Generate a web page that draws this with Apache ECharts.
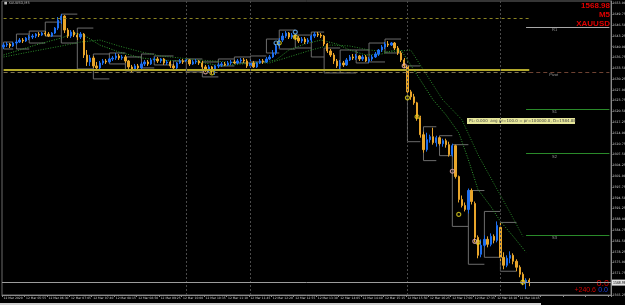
<!DOCTYPE html>
<html>
<head>
<meta charset="utf-8">
<script src="https://cdn.jsdelivr.net/npm/echarts@6/dist/echarts.min.js"></script>
<style>
html, body { margin: 0; padding: 0; background: #000; }
#main { width: 625px; height: 305px; }
</style>
</head>
<body>
<div id="main"></div>
<script>
var myChart = echarts.init(document.getElementById('main'), null, {renderer: 'canvas'});

// bar slots on the time axis, the last ones are the empty chart shift
var slots = [];
for (var i = 0; i < 190; i++) slots.push(String(i));

var tickLabels = ['12 Mar 2020', '12 Mar 05:55', '12 Mar 06:30', '12 Mar 07:05', '12 Mar 07:40', '12 Mar 08:15',
    '12 Mar 08:50', '12 Mar 09:25', '12 Mar 10:00', '12 Mar 10:35', '12 Mar 11:10', '12 Mar 11:45',
    '12 Mar 12:20', '12 Mar 12:55', '12 Mar 13:30', '12 Mar 14:05', '12 Mar 14:40', '12 Mar 15:15',
    '12 Mar 15:50', '12 Mar 16:25', '12 Mar 17:00', '12 Mar 17:35', '12 Mar 18:10', '12 Mar 18:45'];

// XAUUSD M5 bars: [open, close, low, high]
var bars = [
    [1639.9,1640.5,1639.3,1641.1],[1640.5,1640.8,1639.9,1641.4],[1640.8,1640.2,1639.6,1641.1],[1640.2,1641.1,1639.9,1641.4],
    [1641.1,1641.4,1640.5,1642.0],[1641.4,1642.0,1641.1,1642.6],[1642.0,1641.7,1641.1,1642.6],[1641.7,1642.6,1641.4,1642.9],
    [1642.6,1642.9,1642.0,1643.5],[1642.9,1643.2,1642.3,1643.8],[1643.2,1643.8,1642.6,1644.1],[1643.8,1643.5,1642.9,1644.4],
    [1643.5,1644.1,1643.2,1644.4],[1644.1,1643.8,1643.2,1644.7],[1643.8,1643.2,1642.9,1644.4],[1643.2,1644.1,1642.9,1644.4],
    [1644.1,1645.6,1643.8,1645.9],[1645.6,1648.0,1645.0,1648.9],[1648.0,1649.2,1646.8,1649.8],[1649.2,1645.0,1644.1,1649.5],
    [1645.0,1643.2,1642.6,1645.6],[1643.2,1644.4,1642.6,1645.0],[1644.4,1643.5,1642.9,1645.0],[1643.5,1642.9,1642.0,1644.1],
    [1642.9,1643.8,1642.3,1644.4],[1643.8,1637.5,1636.6,1644.1],[1637.5,1635.4,1634.2,1639.0],[1635.4,1636.6,1634.2,1637.5],
    [1636.6,1634.2,1633.6,1637.2],[1634.2,1633.6,1633.0,1635.4],[1633.6,1635.1,1633.0,1635.7],[1635.1,1635.7,1634.5,1636.3],
    [1635.7,1635.4,1634.8,1636.3],[1635.4,1636.3,1635.1,1636.6],[1636.3,1636.6,1635.7,1637.2],[1636.6,1637.2,1636.0,1638.1],
    [1637.2,1636.6,1636.0,1637.8],[1636.6,1636.9,1636.0,1637.5],[1636.9,1635.7,1635.1,1637.5],[1635.7,1633.9,1633.3,1636.0],
    [1633.9,1633.0,1632.4,1634.5],[1633.0,1634.2,1632.7,1634.8],[1634.2,1633.6,1633.0,1634.8],[1633.6,1634.8,1633.3,1635.4],
    [1634.8,1635.4,1634.2,1636.0],[1635.4,1634.8,1634.2,1636.0],[1634.8,1636.0,1634.5,1636.6],[1636.0,1636.3,1635.4,1636.9],
    [1636.3,1635.7,1635.1,1636.9],[1635.7,1636.3,1635.1,1636.6],[1636.3,1635.1,1634.5,1636.6],[1635.1,1635.4,1634.5,1636.0],
    [1635.4,1634.2,1633.6,1635.7],[1634.2,1633.6,1633.0,1634.8],[1633.6,1635.1,1632.7,1635.4],[1635.1,1635.7,1634.8,1636.3],
    [1635.7,1635.4,1634.8,1636.3],[1635.4,1636.0,1635.1,1636.6],[1636.0,1634.8,1634.2,1636.3],[1634.8,1635.4,1634.5,1636.0],
    [1635.4,1635.7,1634.8,1636.3],[1635.7,1635.1,1634.5,1636.0],[1635.1,1633.9,1633.3,1635.7],[1633.9,1633.0,1632.4,1634.5],
    [1633.0,1633.9,1632.1,1634.5],[1633.9,1632.7,1631.8,1634.2],[1632.7,1634.2,1631.5,1634.5],[1634.2,1634.5,1633.6,1635.1],
    [1634.5,1634.8,1633.9,1635.4],[1634.8,1634.5,1634.2,1635.4],[1634.5,1635.1,1634.2,1635.7],[1635.1,1635.4,1634.5,1636.0],
    [1635.4,1635.1,1634.8,1636.0],[1635.1,1635.7,1634.8,1636.3],[1635.7,1636.0,1635.1,1636.6],[1636.0,1635.7,1635.1,1636.6],
    [1635.7,1634.2,1633.6,1636.3],[1634.2,1635.1,1633.6,1636.0],[1635.1,1633.9,1633.6,1635.7],[1633.9,1635.1,1633.6,1635.4],
    [1635.1,1635.7,1634.8,1636.3],[1635.7,1635.4,1634.8,1636.3],[1635.4,1636.3,1635.1,1636.9],[1636.3,1636.9,1636.0,1637.5],
    [1636.9,1638.1,1636.6,1639.0],[1638.1,1640.2,1637.5,1640.8],[1640.2,1642.0,1639.6,1642.6],[1642.0,1643.2,1641.4,1644.1],
    [1643.2,1644.1,1642.6,1644.7],[1644.1,1642.9,1642.3,1644.4],[1642.9,1643.5,1642.3,1644.1],[1643.5,1642.6,1642.0,1643.8],
    [1642.6,1641.7,1641.1,1643.2],[1641.7,1642.3,1641.1,1642.9],[1642.3,1641.4,1640.8,1642.9],[1641.4,1642.0,1640.8,1642.6],
    [1642.0,1643.2,1641.4,1643.5],[1643.2,1643.8,1642.6,1644.4],[1643.8,1643.5,1642.9,1644.4],[1643.5,1643.2,1642.6,1644.1],
    [1643.2,1640.8,1640.2,1643.5],[1640.8,1638.7,1638.1,1641.1],[1638.7,1637.5,1636.9,1639.3],[1637.5,1635.7,1634.8,1638.1],
    [1635.7,1634.2,1633.6,1636.3],[1634.2,1635.1,1633.0,1636.0],[1635.1,1634.5,1633.9,1635.7],[1634.5,1636.0,1634.2,1636.6],
    [1636.0,1636.9,1635.7,1637.5],[1636.9,1636.6,1636.0,1637.8],[1636.6,1637.2,1636.0,1637.8],[1637.2,1636.3,1635.7,1637.5],
    [1636.3,1636.9,1635.7,1637.5],[1636.9,1635.7,1635.4,1637.5],[1635.7,1636.3,1635.1,1636.9],[1636.3,1636.9,1635.7,1637.5],
    [1636.9,1637.8,1636.6,1638.4],[1637.8,1639.0,1637.2,1639.3],[1639.0,1639.9,1638.4,1640.5],[1639.9,1640.8,1639.3,1641.4],
    [1640.8,1640.5,1639.9,1641.7],[1640.5,1641.1,1640.2,1641.4],[1641.1,1639.6,1639.0,1641.4],[1639.6,1638.1,1637.5,1640.2],
    [1638.1,1636.0,1635.4,1638.7],[1636.0,1634.2,1633.6,1636.6],[1634.2,1626.4,1625.8,1634.5],[1626.4,1624.9,1624.0,1627.0],
    [1624.9,1623.1,1622.5,1625.8],[1623.1,1618.6,1617.7,1623.4],[1618.6,1613.5,1612.6,1619.2],[1613.5,1609.0,1608.1,1614.4],
    [1609.0,1612.0,1608.4,1614.1],[1612.0,1612.9,1611.1,1613.5],[1612.9,1611.1,1610.5,1615.6],[1611.1,1612.6,1609.9,1613.2],
    [1612.6,1610.8,1610.2,1612.9],[1610.8,1611.7,1609.9,1612.3],[1611.7,1610.5,1609.6,1612.3],[1610.5,1607.5,1606.9,1611.4],
    [1607.5,1610.2,1606.9,1610.8],[1610.2,1600.9,1600.3,1610.5],[1600.9,1594.0,1593.1,1601.2],[1594.0,1592.2,1591.6,1595.2],
    [1592.2,1591.0,1590.4,1593.1],[1591.0,1596.7,1589.8,1597.3],[1596.7,1593.4,1592.5,1597.3],[1592.8,1582.6,1581.1,1593.4],
    [1582.6,1577.2,1576.3,1583.2],[1577.5,1580.2,1576.6,1582.0],[1580.2,1582.0,1579.6,1583.2],[1582.0,1580.5,1579.6,1582.9],
    [1580.5,1582.9,1579.9,1583.8],[1582.9,1581.7,1580.8,1583.5],[1581.7,1586.2,1581.1,1587.4],[1585.6,1576.6,1575.4,1587.1],
    [1576.6,1574.2,1573.0,1578.1],[1574.2,1576.3,1573.6,1577.2],[1576.3,1577.2,1574.8,1578.4],[1577.2,1575.4,1574.5,1577.8],
    [1575.4,1573.6,1572.4,1576.0],[1573.6,1571.5,1570.6,1574.2],[1571.5,1569.1,1568.2,1572.1],[1569.1,1569.7,1567.0,1570.3],
    [1569.7,1569.0,1567.9,1570.3]
];

// moving averages (dotted green), [bar, price]
var maFast = [[0,1637.5],[5,1639.0],[11,1640.8],[18,1642.6],[22,1644.1],[25,1643.5],[30,1640.5],[36,1638.4],
    [43,1636.6],[49,1636.0],[55,1635.7],[61,1635.4],[68,1634.2],[74,1634.8],[80,1635.1],[85,1636.0],[89,1639.0],
    [94,1640.8],[99,1642.0],[104,1640.8],[108,1639.0],[113,1637.5],[118,1637.8],[122,1639.0],[124,1639.0],
    [127,1634.5],[130,1630.0],[134,1624.0],[138,1619.5],[142,1614.1],[145,1606.0],[148,1597.0],[152,1591.9],
    [155,1587.4],[159,1582.9],[163,1578.1]];
var maSlow = [[0,1636.9],[8,1638.4],[18,1640.2],[24,1641.4],[30,1642.0],[36,1640.2],[43,1638.4],[49,1637.2],
    [61,1636.0],[74,1635.1],[83,1635.1],[89,1636.9],[96,1639.0],[102,1640.5],[108,1640.2],[114,1639.0],
    [121,1638.4],[127,1639.0],[137,1624.0],[143,1618.0],[148,1607.5],[154,1597.0],[158,1590.1],[162,1582.9]];

// period high/low brackets: [firstBar, lastBar, high, low]
var ranges = [
    [0,3,1641.4,1639.3],[4,8,1643.8,1639.3],[8,13,1644.7,1641.1],[13,18,1647.4,1643.2],[18,23,1649.8,1641.1],
    [23,28,1645.6,1633.3],[28,33,1637.8,1630.3],[33,38,1638.1,1634.8],[38,43,1636.9,1632.7],[43,47,1637.8,1633.6],
    [47,53,1637.2,1634.5],[53,57,1635.7,1633.0],[57,62,1636.3,1632.4],[62,67,1635.4,1630.9],[67,72,1636.3,1634.2],
    [72,77,1636.9,1635.1],[77,82,1637.2,1635.4],[82,86,1642.3,1638.1],[86,91,1645.0,1639.3],[91,96,1643.5,1639.6],
    [96,100,1644.4,1636.9],[100,105,1639.6,1632.1],[105,110,1639.0,1632.1],[110,114,1639.0,1635.1],[114,119,1641.1,1635.4],
    [119,124,1642.3,1638.1],[126,130,1634.2,1611.4],[131,135,1615.9,1605.7],[136,140,1613.2,1607.2],[140,145,1610.5,1585.9],
    [145,150,1596.7,1574.5],[150,155,1590.4,1576.6],[155,160,1587.1,1572.4]
];

// signal rings, [bar, price]
var ringsYellow = [[65,1632.1],[86,1641.1],[91,1642.9],[126,1624.6],[129,1618.9],[142,1589.5],[148,1581.1],[162,1569.1]];
var ringsPink = [[63,1632.4],[125,1634.2],[140,1602.5],[147,1581.4]];
var ringsBlue = [[85,1641.1],[91,1644.4]];

var bid = 1568.98;
var prevHigh = 1648.6;
var dayLevel = 1633.0;
var pivot = 1632.4;
var levelNames = ['R1', 'S1', 'S2', 'S3'];
var levelValues = [1645.9, 1621.3, 1607.8, 1583.2];
var separators = [57, 77, 126, 155];

var lastBar = bars.length - 1;
var lastSlot = slots.length - 1;

var marks = [
    [{coord: [0, prevHigh], lineStyle: {color: '#8c8422', type: [3, 3], width: 1}}, {coord: [lastBar, prevHigh]}],
    [{coord: [0, dayLevel], lineStyle: {color: '#b2a82c', type: 'solid', width: 2}}, {coord: [lastBar, dayLevel]}],
    [{coord: [0, pivot], lineStyle: {color: '#7e7350', type: [4, 3], width: 1}}, {coord: [lastBar, pivot]}],
    [{coord: [lastBar, pivot], lineStyle: {color: '#6e4232', type: [4, 3], width: 1},
        label: {show: true, formatter: 'Pivot', position: 'insideStartBottom', distance: [20, 1], fontSize: 4, color: '#9a9a9a'}},
        {coord: [lastSlot, pivot]}]
];
for (var k = 0; k < levelNames.length; k++) {
    marks.push([
        {coord: [lastBar - 1, levelValues[k]],
            lineStyle: {color: k === 0 ? '#a8a8a8' : '#2a8a2a', type: 'solid', width: 1},
            label: {show: true, formatter: levelNames[k], position: 'insideStartBottom', distance: [26, 1], fontSize: 4, color: '#9a9a9a'}},
        {coord: [lastSlot, levelValues[k]]}
    ]);
}
for (var s = 0; s < separators.length; s++) {
    marks.push({xAxis: separators[s], lineStyle: {color: '#4a4a4a', type: [2, 2], width: 1}});
}
marks.push({yAxis: bid, lineStyle: {color: '#9c9c9c', type: 'solid', width: 1},
    label: {show: true, position: 'end', distance: 1, formatter: bid.toFixed(2), fontSize: 3.5, color: '#000',
        backgroundColor: '#e4e4e4', padding: [1, 1]}});

function ring(color) {
    return {color: 'rgba(0,0,0,0)', borderColor: color, borderWidth: 1.2};
}

var option = {
    backgroundColor: '#000',
    animation: false,
    grid: {left: 2, right: 14, top: 1, bottom: 10, outerBoundsMode: 'none', containLabel: false,
        show: true, borderColor: '#6a6a6a', borderWidth: 1, backgroundColor: '#000'},
    xAxis: {
        type: 'category',
        data: slots,
        boundaryGap: true,
        axisLine: {lineStyle: {color: '#8a8a8a'}},
        axisTick: {show: true, interval: 6, length: 2, lineStyle: {color: '#8a8a8a'}},
        axisLabel: {
            interval: 6, align: 'left', margin: 2, fontSize: 3, color: '#cfcfcf', fontFamily: 'DejaVu Sans',
            formatter: function (value, idx) { return tickLabels[idx / 7] || ''; }
        },
        splitLine: {show: false}
    },
    yAxis: {
        type: 'value',
        position: 'right',
        min: 1565.25,
        max: 1653.75,
        interval: 3.25,
        axisLine: {show: true, lineStyle: {color: '#8a8a8a'}},
        axisTick: {show: true, length: 1.5, lineStyle: {color: '#8a8a8a'}},
        axisLabel: {margin: 1.5, fontSize: 3.2, color: '#d0d0d0', fontFamily: 'DejaVu Sans', showMaxLabel: false,
            formatter: function (v) { return v.toFixed(2); }},
        splitLine: {show: false}
    },
    series: [
        {
            name: 'ranges',
            type: 'custom',
            silent: true,
            z: 2,
            encode: {x: [0, 1], y: [2, 3]},
            data: ranges,
            renderItem: function (params, api) {
                var a = api.coord([api.value(0), api.value(2)]);
                var b = api.coord([api.value(1), api.value(2)]);
                var c = api.coord([api.value(0), api.value(3)]);
                var d = api.coord([api.value(1), api.value(3)]);
                return {type: 'polyline', shape: {points: [b, a, c, d]}, style: {stroke: '#6c6c6c', lineWidth: 1, fill: 'none'}};
            }
        },
        {
            name: 'MA fast', type: 'line', data: maFast, showSymbol: false, silent: true, z: 2,
            lineStyle: {color: '#32a032', width: 1, type: [1, 1.5]}
        },
        {
            name: 'MA slow', type: 'line', data: maSlow, showSymbol: false, silent: true, z: 2,
            lineStyle: {color: '#2a8a2a', width: 1, type: [1, 1.5]}
        },
        {
            name: 'XAUUSD',
            type: 'candlestick',
            data: bars,
            barWidth: 1.8,
            z: 3,
            itemStyle: {color: '#1d6ff0', color0: '#e8a52a', borderColor: '#1d6ff0', borderColor0: '#e8a52a', borderWidth: 1},
            markLine: {silent: true, symbol: ['none', 'none'], label: {show: false}, data: marks}
        },
        {name: 'y', type: 'scatter', data: ringsYellow, symbolSize: 4, z: 4, itemStyle: ring('#e6d61e')},
        {name: 'p', type: 'scatter', data: ringsPink, symbolSize: 4, z: 4, itemStyle: ring('#e8b0b0')},
        {name: 'b', type: 'scatter', data: ringsBlue, symbolSize: 4, z: 4, itemStyle: ring('#6cb8ff')}
    ],
    graphic: [
        {type: 'text', left: 4, top: 1, style: {text: '\u25a0 XAUUSD,M5', fill: '#bdbdbd', font: '3.5px "DejaVu Sans"'}},
        {type: 'text', right: 15, top: 2, style: {text: '1568.98', fill: '#e00000', font: 'bold 8px "Liberation Sans"'}},
        {type: 'text', right: 15, top: 11, style: {text: 'M5', fill: '#e00000', font: 'bold 8px "Liberation Sans"'}},
        {type: 'text', right: 15, top: 20, style: {text: 'XAUUSD', fill: '#e00000', font: 'bold 8px "Liberation Sans"'}},
        {type: 'text', right: 16, top: 279, style: {text: '0.0', fill: '#d00000', font: '9px "Liberation Sans"'}},
        {type: 'text', right: 29, top: 287, style: {text: '+240.6', fill: '#d00000', font: '7px "Liberation Sans"'}},
        {type: 'text', right: 17, top: 287, style: {text: '0.0', fill: '#1d3ddc', font: '7px "Liberation Sans"'}},
        {
            type: 'group', left: 467, top: 118,
            children: [
                {type: 'rect', shape: {x: 0, y: 0, width: 108, height: 6}, style: {fill: '#e6e69a'}},
                {type: 'text', x: 2, y: 1, style: {text: 'PL: 0.000  avg pr=100.0 = pr=100000.0, D=1584.88', fill: '#444', font: '4px "DejaVu Sans"'}}
            ]
        },
        {type: 'rect', left: 0, top: 303, shape: {width: 541, height: 2}, style: {fill: '#d2d2d2'}}
    ]
};

myChart.setOption(option);
</script>
</body>
</html>
